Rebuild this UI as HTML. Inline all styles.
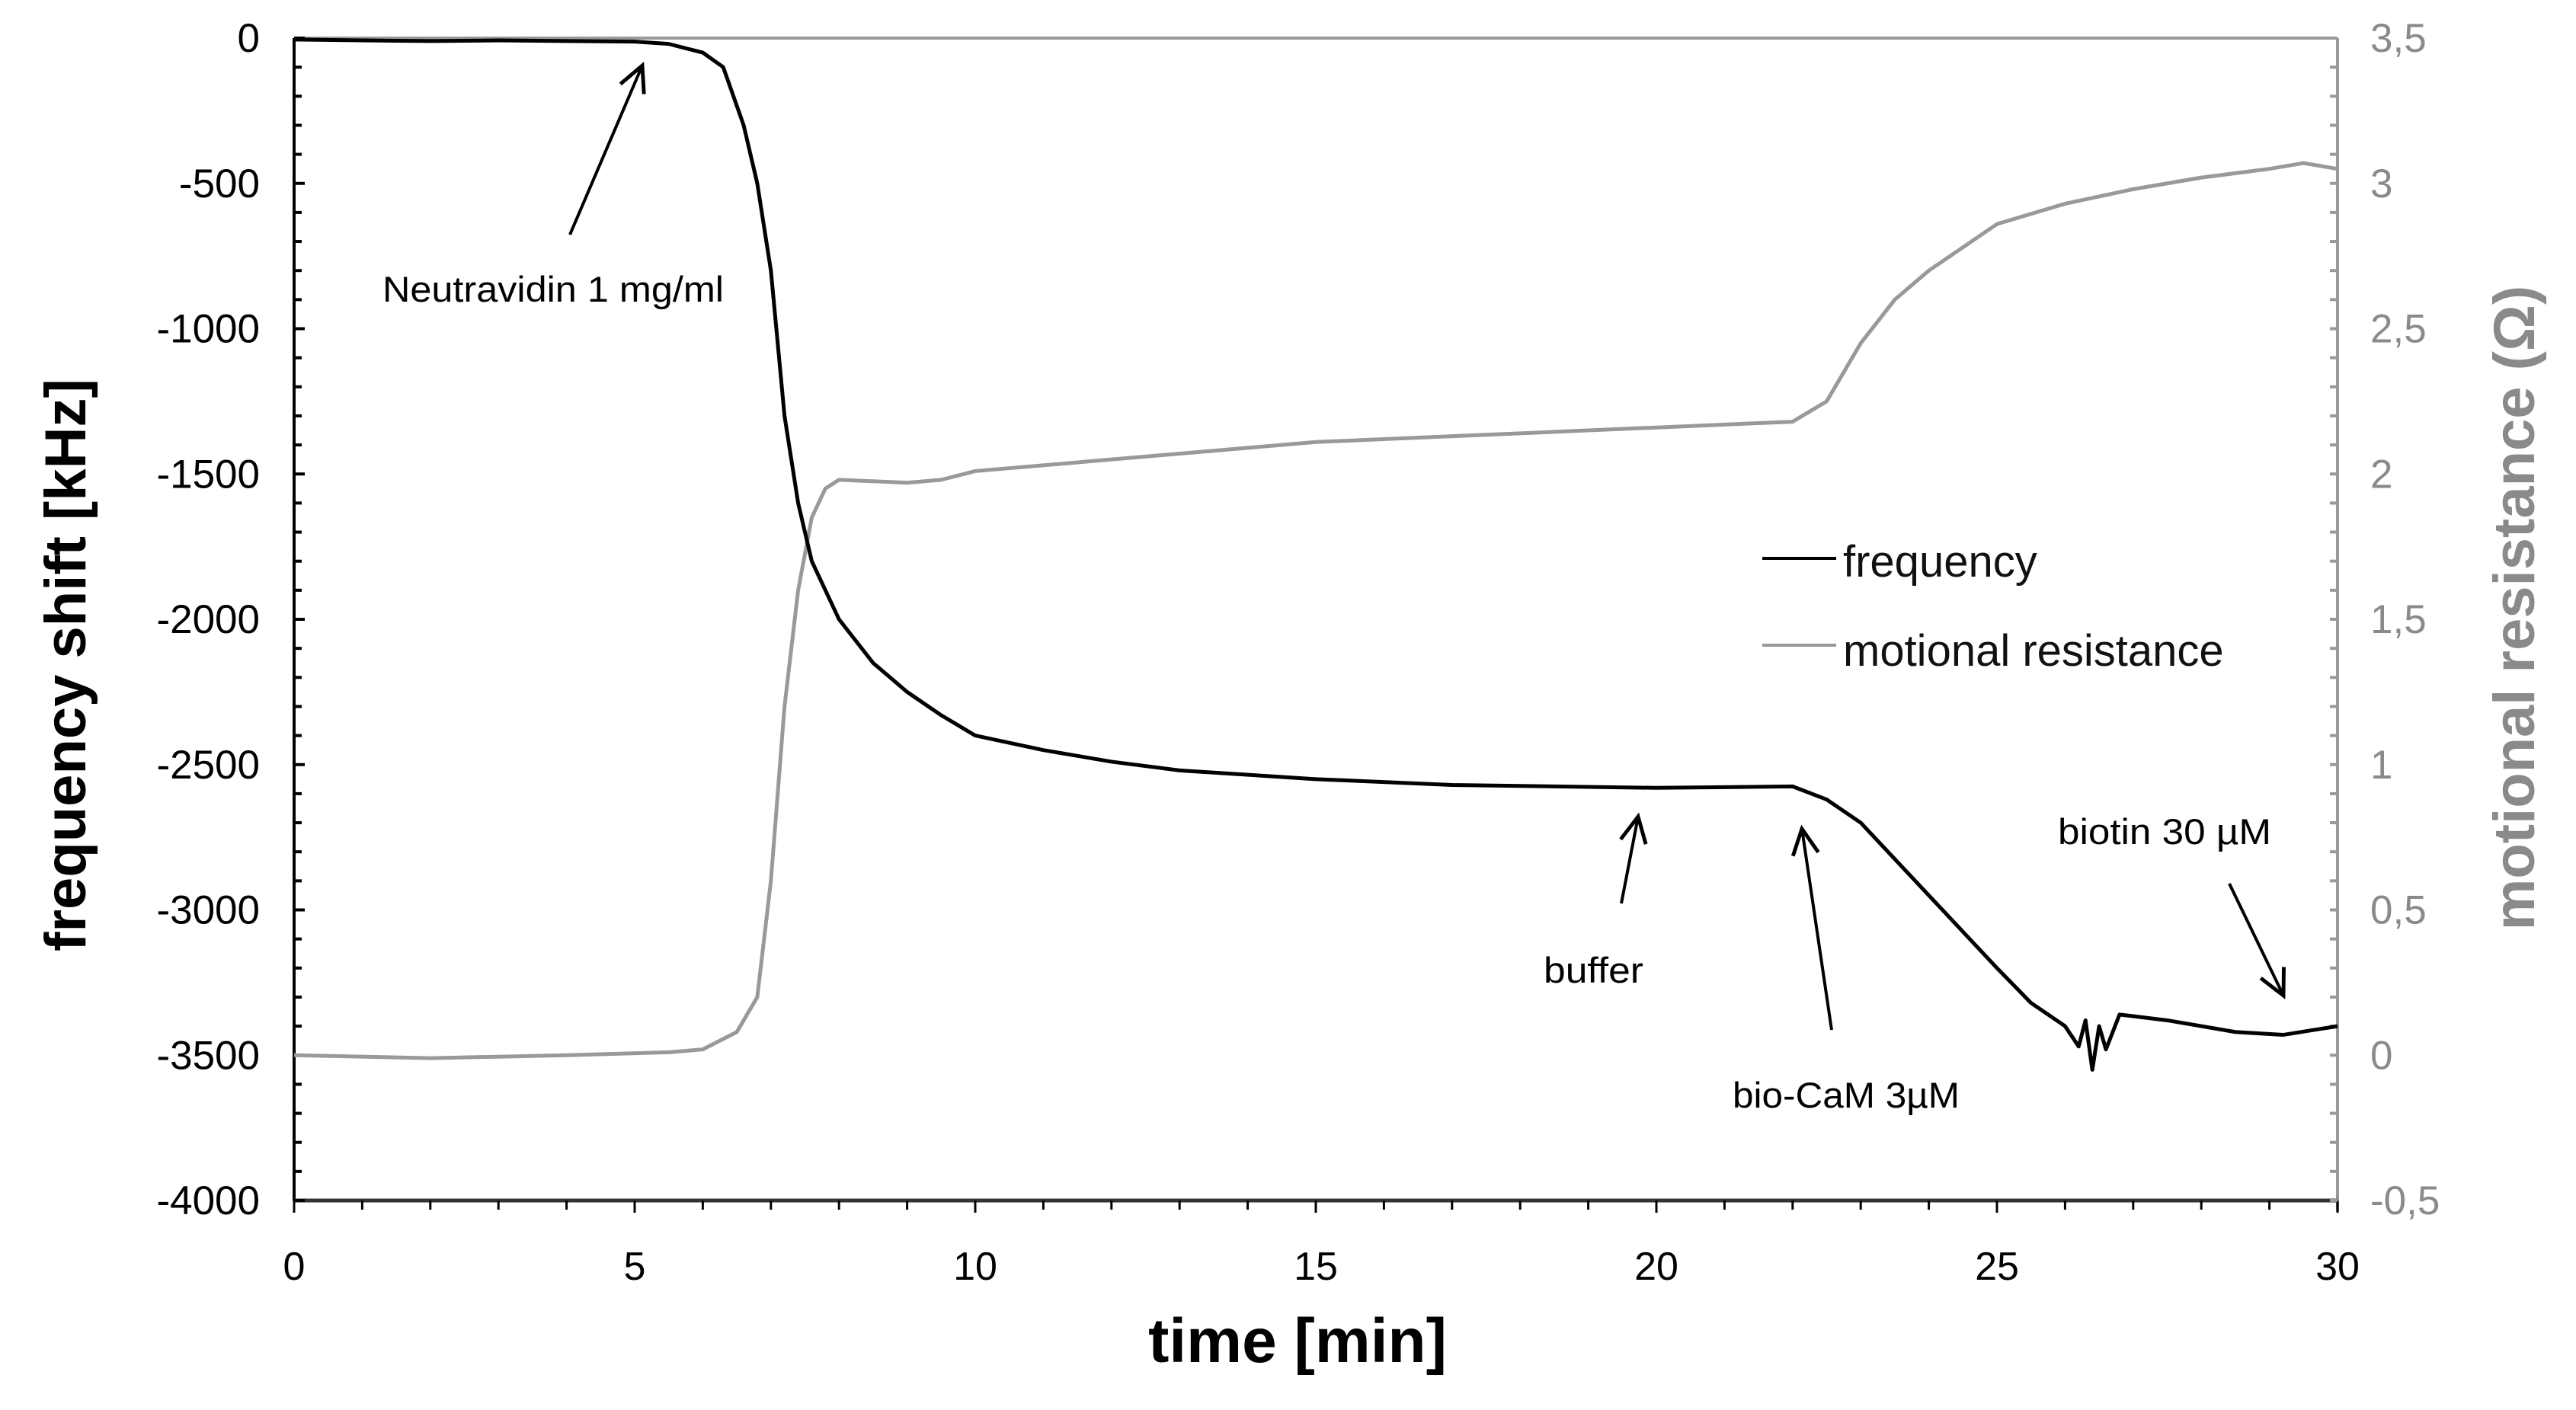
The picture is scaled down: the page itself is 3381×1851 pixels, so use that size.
<!DOCTYPE html>
<html><head><meta charset="utf-8"><style>
html,body{margin:0;padding:0;background:#fff;}
svg{display:block;font-family:"Liberation Sans",sans-serif;}
</style></head><body>
<svg id="chart" width="3381" height="1851" viewBox="0 0 3381 1851" xmlns="http://www.w3.org/2000/svg">
<defs>
<marker id="ah" viewBox="0 0 20 20" refX="18" refY="10" markerWidth="14" markerHeight="14" markerUnits="userSpaceOnUse" orient="auto" style="overflow:visible">
<path d="M-30,-14 L18,10 L-30,34" fill="none" stroke="#000" stroke-width="7"/>
</marker>
</defs>
<g id="axes"></g>
<g id="series"></g>
<g id="notes"></g>
</svg>
<script>
const timeVals=[0,1,2,3,4,5,5.5,6,6.3,6.6,6.8,7.0,7.2,7.4,7.6,8,8.5,9,9.5,10,11,12,13,15,17,20,22,22.5,23,24,25,25.5,26,26.2,26.3,26.4,26.5,26.6,26.7,26.8,27.5,28.5,29.2,30];
const freqVals=[-5,-8,-10,-8,-10,-12,-20,-50,-100,-300,-500,-800,-1300,-1600,-1800,-2000,-2150,-2250,-2330,-2400,-2450,-2490,-2520,-2550,-2570,-2580,-2575,-2620,-2700,-2950,-3200,-3320,-3400,-3470,-3380,-3550,-3400,-3480,-3420,-3360,-3380,-3420,-3430,-3400];
const resTime=[0,2,4,5.5,6,6.5,6.8,7.0,7.2,7.4,7.6,7.8,8,9,9.5,10,12,15,18,20,22,22.5,23,23.5,24,25,26,27,28,29,29.5,30];
const resVals=[0,-0.01,0,0.01,0.02,0.08,0.2,0.6,1.2,1.6,1.85,1.95,1.98,1.97,1.98,2.01,2.05,2.11,2.14,2.16,2.18,2.25,2.45,2.6,2.7,2.86,2.93,2.98,3.02,3.05,3.07,3.05];
const xTicks=[0,5,10,15,20,25,30];
const yLeftTicks=[0,-500,-1000,-1500,-2000,-2500,-3000,-3500,-4000];
const yRightTicks=[3.5,3,2.5,2,1.5,1,0.5,0,-0.5];
const yRightLabels=["3,5","3","2,5","2","1,5","1","0,5","0","-0,5"];

const L=386,R=3068,T=50,B=1576;
const sx=t=>L+(t/30)*(R-L);
const syL=v=>T+(-v/4000)*(B-T);
const syR=v=>T+((3.5-v)/4)*(B-T);
const NS="http://www.w3.org/2000/svg";
function mk(tag,attrs,parent,text){const e=document.createElementNS(NS,tag);for(const k in attrs)e.setAttribute(k,attrs[k]);if(text!==undefined)e.textContent=text;parent.appendChild(e);return e;}
const ax=document.getElementById('axes'),se=document.getElementById('series'),no=document.getElementById('notes');

let e;
e=mk('line',{x1:L,y1:T,x2:R,y2:T,stroke:'#999','stroke-width':4},ax);


e=mk('line',{x1:R,y1:T,x2:R,y2:B+14,stroke:'#999','stroke-width':4},ax);


e=mk('line',{x1:L,y1:T,x2:L,y2:B,stroke:'#000','stroke-width':4},ax);


e=mk('line',{x1:L,y1:B,x2:R,y2:B,stroke:'#333','stroke-width':5},ax);



for(let v=0;v>=-4000;v-=100){const y=syL(v);const major=v%500===0;mk('line',{x1:L,y1:y,x2:L+(major?14:10),y2:y,stroke:'#000','stroke-width':4},ax);}
for(let t=0;t<=30;t++){const x=sx(t);mk('line',{x1:x,y1:B,x2:x,y2:B+(t%5===0?16:12),stroke:'#000','stroke-width':3},ax);}
for(let i=0;i<=40;i++){const v=3.5-i*0.1;const y=syR(v);mk('line',{x1:R-10,y1:y,x2:R,y2:y,stroke:'#999','stroke-width':4},ax);}

xTicks.forEach(t=>{const el=mk('text',{x:sx(t),y:1680,'font-size':52,'text-anchor':'middle',fill:'#000'},ax,String(t));

});
yLeftTicks.forEach(v=>{const el=mk('text',{x:341,y:syL(v)+18,'font-size':53,'text-anchor':'end',fill:'#000'},ax,String(v));

});
yRightTicks.forEach((v,i)=>{const el=mk('text',{x:3111,y:syR(v)+18,'font-size':53,'text-anchor':'start',fill:'#8a8a8a'},ax,yRightLabels[i]);

});

e=mk('text',{x:1703,y:1788,'font-size':82,'font-weight':'bold','text-anchor':'middle',fill:'#000'},ax,'time [min]');


e=mk('text',{x:0,y:0,'font-size':76,'font-weight':'bold','text-anchor':'middle',fill:'#000',transform:'translate(112,873) rotate(-90)'},ax,'frequency shift [kHz]');


e=mk('text',{x:0,y:0,'font-size':76,'font-weight':'bold','text-anchor':'middle',fill:'#8a8a8a',transform:'translate(3326,798) rotate(-90)'},ax,'motional resistance (Ω)');



e=mk('polyline',{points:resTime.map((t,i)=>sx(t)+','+syR(resVals[i])).join(' '),fill:'none',stroke:'#999','stroke-width':5,'stroke-linejoin':'round'},se);


e=mk('polyline',{points:timeVals.map((t,i)=>sx(t)+','+syL(freqVals[i])).join(' '),fill:'none',stroke:'#000','stroke-width':5,'stroke-linejoin':'round'},se);



e=mk('line',{x1:2313,y1:733,x2:2410,y2:733,stroke:'#000','stroke-width':4},se);


e=mk('text',{x:2419,y:757,'font-size':58,fill:'#111'},se,'frequency');


e=mk('line',{x1:2313,y1:847,x2:2410,y2:847,stroke:'#999','stroke-width':4},se);


e=mk('text',{x:2419,y:874,'font-size':58,fill:'#111'},se,'motional resistance');



const notes=[
 ['Neutravidin 1 mg/ml',502,396,448,[748,308,843,86]],
 ['buffer',2026,1290,131,[2128,1186,2150,1072]],
 ['bio-CaM 3µM',2274,1454,298,[2404,1352,2365,1088]],
 ['biotin 30 µM',2701,1108,280,[2926,1160,2997,1307]]
];
notes.forEach(n=>{
 const t=mk('text',{x:n[1],y:n[2],'font-size':47,fill:'#000',textLength:n[3],lengthAdjust:'spacingAndGlyphs'},no,n[0]);
 
 
 const a=n[4];
 const l=mk('line',{x1:a[0],y1:a[1],x2:a[2],y2:a[3],stroke:'#000','stroke-width':4,'marker-end':'url(#ah)'},no);
 
 
});
</script>
</body></html>
